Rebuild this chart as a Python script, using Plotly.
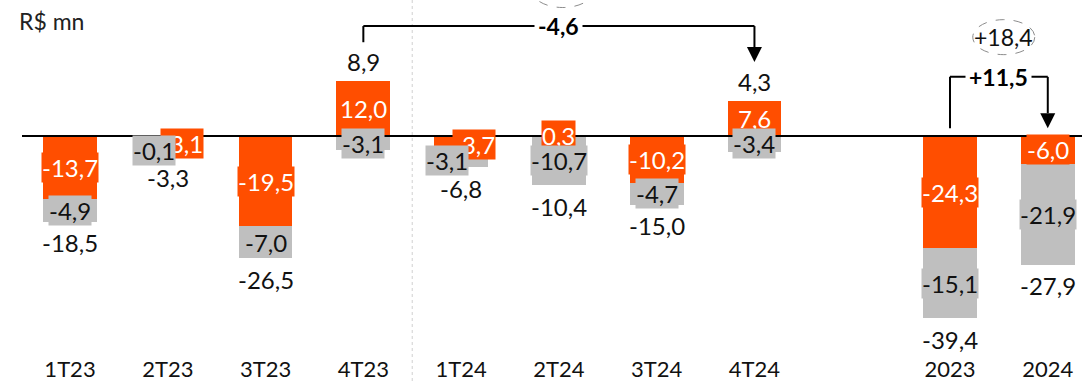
import plotly.graph_objects as go

# Quarterly and annual results, R$ mn
categories = ["1T23", "2T23", "3T23", "4T23", "1T24", "2T24", "3T24", "4T24", "2023", "2024"]
slots = [0, 1, 2, 3, 4, 5, 6, 7, 9, 10]          # one empty slot before the annual bars
orange_vals = [-13.7, -3.1, -19.5, 12.0, -3.7, 0.3, -10.2, 7.6, -24.3, -6.0]
gray_vals = [-4.9, -0.1, -7.0, -3.1, -3.1, -10.7, -4.7, -3.4, -15.1, -21.9]
totals = [-18.5, -3.3, -26.5, 8.9, -6.8, -10.4, -15.0, 4.3, -39.4, -27.9]
quarter_change = -4.6      # 4T23 -> 4T24
annual_change = 11.5       # 2023 -> 2024
annual_circled = 18.4

ORANGE = "#FF4E00"
GRAY = "#BFBFBF"
FONT = "Lato"

# canvas geometry
W, H = 1082, 381
M_L, M_R, M_T, M_B = 22, 0, 0, 31
X_RANGE = [-0.491, 10.35]
Y_RANGE = [-46.32, 29.44]
px_x = (W - M_L - M_R) / (X_RANGE[1] - X_RANGE[0])
px_y = (H - M_T - M_B) / (Y_RANGE[1] - Y_RANGE[0])


def fmt(v, sign=False):
    s = f"{v:+.1f}" if sign else f"{v:.1f}"
    return s.replace(".", ",")


fig = go.Figure()
fig.add_trace(go.Bar(x=slots, y=orange_vals, width=0.55, marker=dict(color=ORANGE, line=dict(width=0)),
                     hoverinfo="skip"))
fig.add_trace(go.Bar(x=slots, y=gray_vals, width=0.55, marker=dict(color=GRAY, line=dict(width=0)),
                     hoverinfo="skip"))

# label nudges (pixels) where the small segments would overlap
x_nudge = {"2T23": (14, -14), "1T24": (13, -14)}
total_nudge = {"2T23": -27}

annotations = []
orange_ann, gray_ann, total_ann = [], [], []
for cat, x, o, g, t in zip(categories, slots, orange_vals, gray_vals, totals):
    xo, xg = x_nudge.get(cat, (0, 0))
    orange_ann.append(dict(x=x, y=o / 2, text=fmt(o), xshift=xo, showarrow=False,
                           font=dict(family=FONT, size=24, color="white"),
                           bgcolor=ORANGE, borderpad=0))
    base = min(o, 0)
    gray_ann.append(dict(x=x, y=base + g / 2, text=fmt(g), xshift=xg, showarrow=False,
                         font=dict(family=FONT, size=24, color="#111111"),
                         bgcolor=GRAY, borderpad=0))
    if t < 0:
        total_ann.append(dict(x=x, y=base + g, text=fmt(t), yshift=total_nudge.get(cat, -21),
                              showarrow=False, font=dict(family=FONT, size=24, color="#111111")))
    else:
        total_ann.append(dict(x=x, y=max(o, 0), text=fmt(t), yshift=19, showarrow=False,
                              font=dict(family=FONT, size=24, color="#111111")))
annotations += orange_ann + gray_ann + total_ann

shapes = []
# zero line
shapes.append(dict(type="line", xref="paper", x0=0, x1=1, yref="y", y0=0, y1=0,
                   line=dict(color="black", width=2), layer="above"))
# separator between 2023 and 2024 quarters
shapes.append(dict(type="line", xref="x", x0=3.5, x1=3.5, yref="paper", y0=-M_B / (H - M_T - M_B), y1=1,
                   line=dict(color="#D0D0D0", width=1, dash="dot"), layer="below"))


def bracket(x_from, x_to, y_line, y_left_end, y_tip):
    dy_head = 15 / px_y
    dx_head = 7.5 / px_x
    out = [
        dict(type="line", x0=x_from, x1=x_from, y0=y_line, y1=y_left_end, line=dict(color="black", width=2)),
        dict(type="line", x0=x_from, x1=x_to, y0=y_line, y1=y_line, line=dict(color="black", width=2)),
        dict(type="line", x0=x_to, x1=x_to, y0=y_line, y1=y_tip + dy_head, line=dict(color="black", width=2)),
        dict(type="path",
             path=f"M {x_to - dx_head},{y_tip + dy_head} L {x_to + dx_head},{y_tip + dy_head} L {x_to},{y_tip} Z",
             fillcolor="black", line=dict(color="black", width=0)),
    ]
    for s in out:
        s.update(xref="x", yref="y", layer="above")
    return out


# 4T23 -> 4T24
q_from, q_to = slots[3], slots[7]
shapes += bracket(q_from, q_to, 23.8, 20.3, 16.0)
annotations.append(dict(x=(q_from + q_to) / 2, y=23.8, text=f"<b>{fmt(quarter_change)}</b>", showarrow=False,
                        font=dict(family=FONT, size=23, color="black"), bgcolor="white", borderpad=3))
# 2023 -> 2024
a_from, a_to = slots[8], slots[9]
shapes += bracket(a_from, a_to, 12.8, 1.7, 1.7)
annotations.append(dict(x=(a_from + a_to) / 2, y=12.8, text=f"<b>{fmt(annual_change, sign=True)}</b>",
                        showarrow=False, font=dict(family=FONT, size=23, color="black"),
                        bgcolor="white", borderpad=3))

# dashed callout ellipses
rx, ry = 31 / px_x, 17.5 / px_y
for cx, cy in [((q_from + q_to) / 2 + 0.04, 31.6), (9.55, 21.4)]:
    shapes.append(dict(type="circle", xref="x", yref="y", x0=cx - rx, x1=cx + rx, y0=cy - ry, y1=cy + ry,
                       line=dict(color="#8C8C8C", width=1, dash="dash"), layer="above"))
annotations.append(dict(x=9.55, y=21.4, text=fmt(annual_circled, sign=True), showarrow=False,
                        font=dict(family=FONT, size=23, color="#111111")))

# unit label
annotations.append(dict(xref="paper", yref="paper", x=(17 - M_L) / (W - M_L - M_R), y=1 - 5 / (H - M_T - M_B),
                        xanchor="left", yanchor="top", text="R$ mn", showarrow=False,
                        font=dict(family=FONT, size=23, color="#222222")))

fig.update_layout(
    width=W, height=H, margin=dict(l=M_L, r=M_R, t=M_T, b=M_B, autoexpand=False),
    barmode="relative", bargap=0, showlegend=False,
    plot_bgcolor="white", paper_bgcolor="white",
    shapes=shapes, annotations=annotations,
    xaxis=dict(range=X_RANGE, tickmode="array", tickvals=slots, ticktext=categories,
               showgrid=False, zeroline=False, showline=False, ticks="", automargin=False,
               tickfont=dict(family=FONT, size=22, color="#111111"), ticklabelstandoff=4),
    yaxis=dict(range=Y_RANGE, showgrid=False, zeroline=False, showline=False,
               showticklabels=False, ticks="", automargin=False),
)

fig.write_html("out.html")
